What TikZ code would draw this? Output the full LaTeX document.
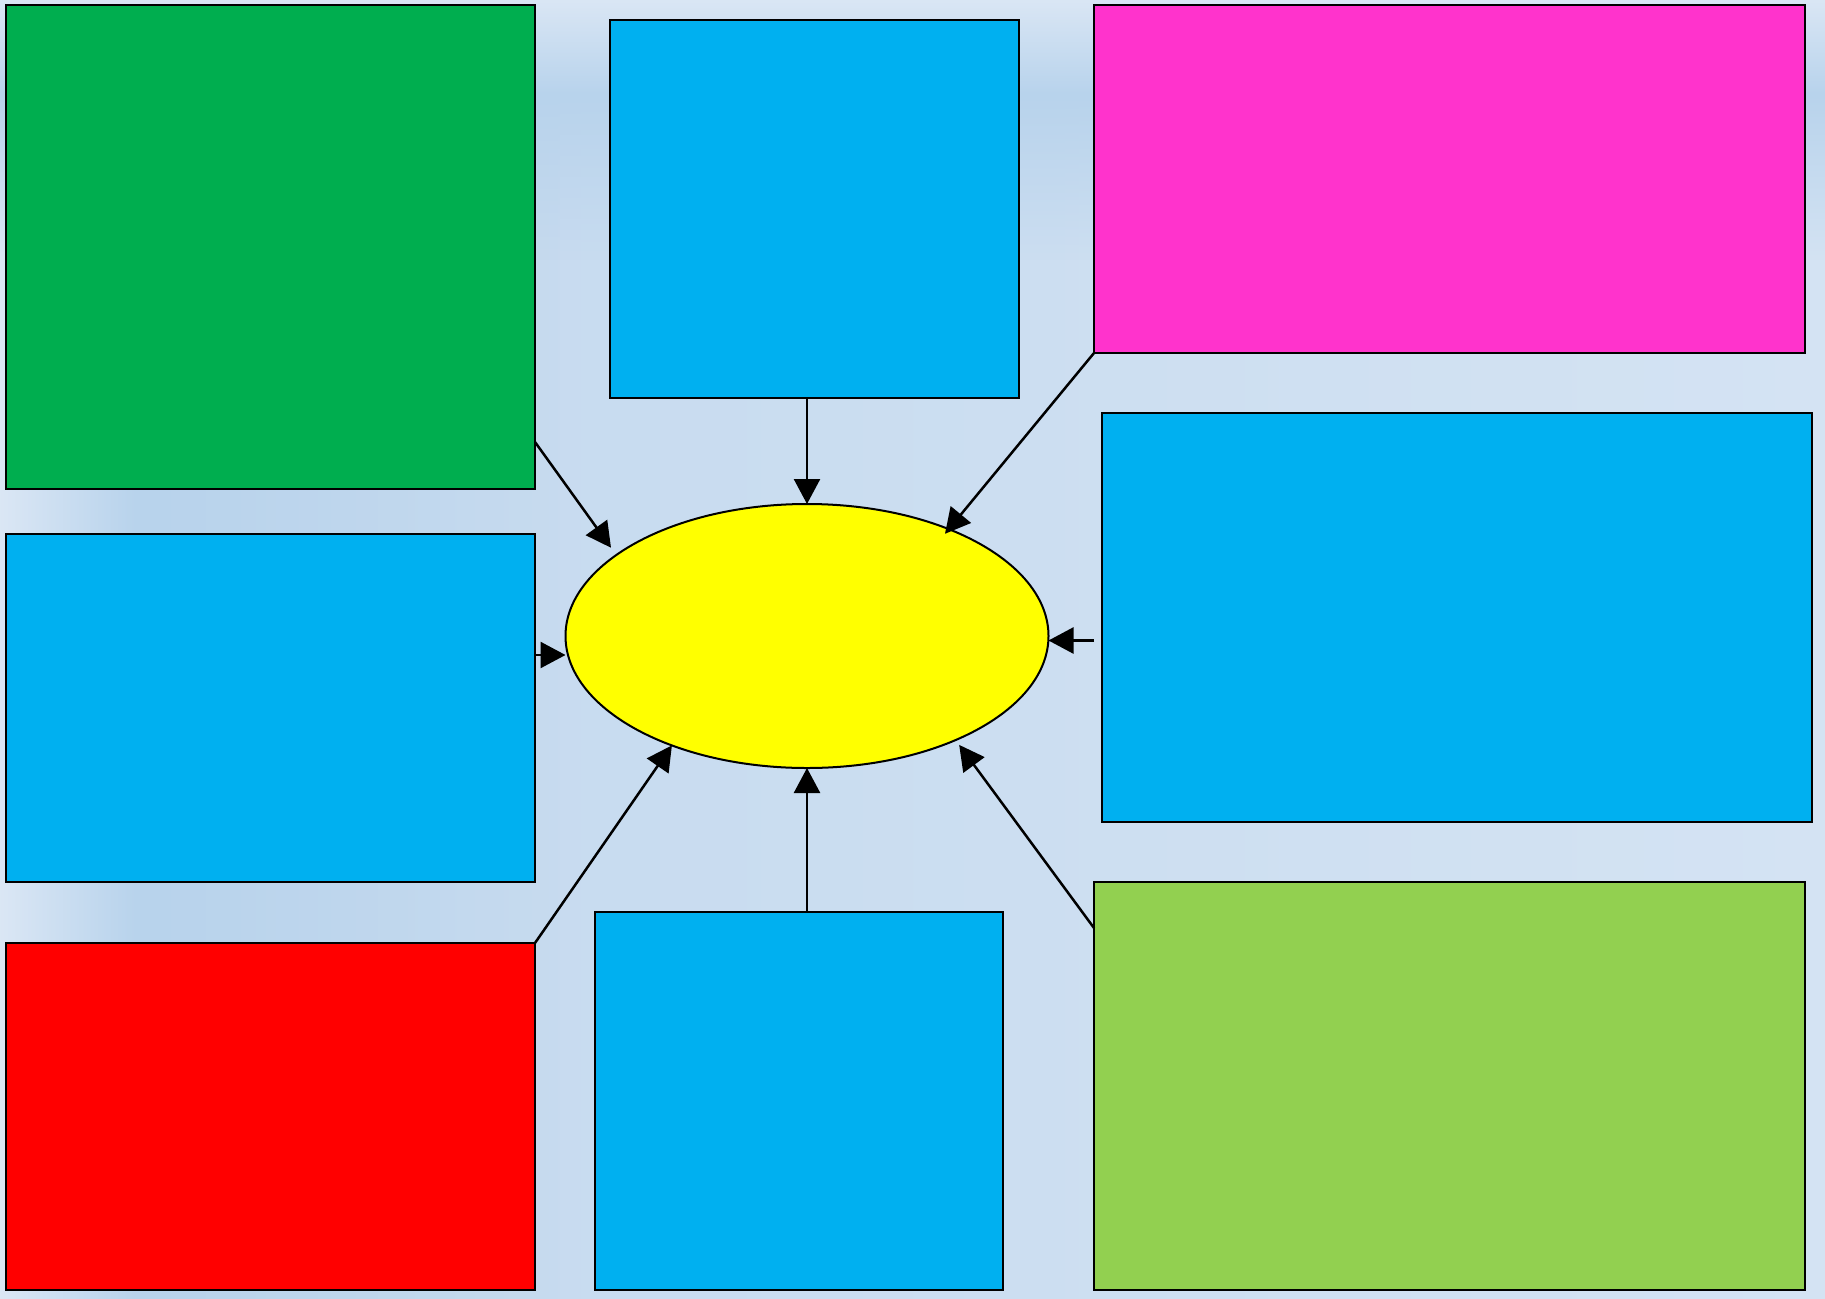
\documentclass[tikz,border=0pt]{standalone}
\usetikzlibrary{arrows.meta,shapes.geometric,fadings}
\definecolor{bgl}{HTML}{DDE8F5}
\definecolor{bgd}{HTML}{B8D3EC}
\definecolor{bgm}{HTML}{C2D8EE}
\definecolor{bgr}{HTML}{D4E3F3}
\definecolor{cgreen}{HTML}{00AE4F}
\definecolor{cblue}{HTML}{00B0F0}
\definecolor{cmag}{HTML}{FF33CC}
\definecolor{cred}{HTML}{FF0000}
\definecolor{clgreen}{HTML}{92D050}
\definecolor{cyel}{HTML}{FFFF00}
\tikzfading[name=fadedown, top color=transparent!0, bottom color=transparent!100]
\tikzfading[name=faderight, left color=transparent!0, right color=transparent!100]
\begin{document}
\begin{tikzpicture}[x=1pt,y=-1pt,
  box/.style={draw=black, line width=2pt, rectangle, inner sep=0pt, outer sep=0pt, anchor=north west},
  hub/.style={draw=black, line width=2pt, ellipse, fill=cyel, inner sep=0pt, outer sep=0pt, minimum width=483pt, minimum height=264pt},
  conn/.style={draw=black, line width=2.5pt, -{Triangle[length=25pt,width=26pt]}}]
\useasboundingbox (0,0) rectangle (1825,1298);
% background
\begin{scope}
\clip (0,0) rectangle (1825,1298);
\fill[left color=bgm, right color=bgr] (0,-10) rectangle (1825,1310);
\fill[left color=bgl, right color=bgd] (-10,-10) rectangle (135,1310);
\fill[bgd, path fading=faderight] (135,-10) rectangle (560,1310);
\fill[top color=bgl, bottom color=bgd] (-10,-10) rectangle (1900,93);
\fill[bgd, path fading=fadedown] (-10,93) rectangle (1900,260);
\end{scope}
% boxes
\node[box, fill=cgreen, minimum width=529.5pt, minimum height=483.5pt] (g) at (5.5,5.5) {};
\node[box, fill=cblue, minimum width=409pt, minimum height=378pt] (tb) at (610,20) {};
\node[box, fill=cmag, minimum width=711pt, minimum height=347.5pt] (m) at (1094,5.5) {};
\node[box, fill=cblue, minimum width=710pt, minimum height=409pt] (rb) at (1102,413) {};
\node[box, fill=cblue, minimum width=529.5pt, minimum height=348pt] (lb) at (5.5,534) {};
\node[box, fill=cred, minimum width=529.5pt, minimum height=347pt] (r) at (5.5,943) {};
\node[box, fill=cblue, minimum width=408pt, minimum height=378pt] (bb) at (595,912) {};
\node[box, fill=clgreen, minimum width=711pt, minimum height=408pt] (lg) at (1094,882) {};
\node[hub] (ell) at (807,636) {};
% connectors
\draw[conn, shorten >=9pt] ([yshift=47pt]g.south east) -- (ell.157);
\draw[conn] (ell |- tb.south) -- (ell.north);
\draw[conn, shorten >=-6pt] (m.south west) -- (ell.37);
\draw[conn] ([yshift=53pt]lb.east) -- ([yshift=53pt]lb.east -| ell.west);
\draw[conn, shorten <=8pt] ([yshift=-23pt]rb.west) -- ([yshift=-23pt]rb.west -| ell.east);
\draw[conn] (r.north east) -- (ell.219);
\draw[conn] (ell |- bb.north) -- (ell.south);
\draw[conn, shorten >=6pt] ([yshift=-46pt]lg.north west) -- (ell.-35);
\end{tikzpicture}
\end{document}
